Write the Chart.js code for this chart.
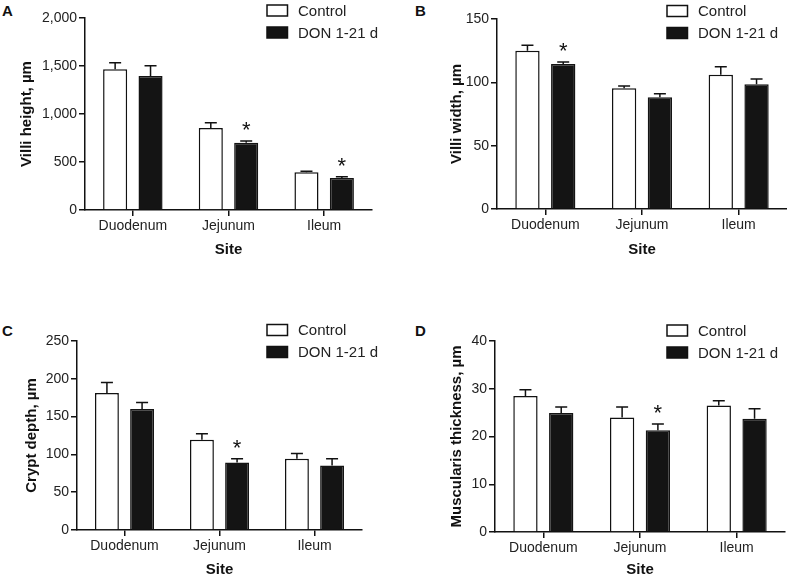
<!DOCTYPE html>
<html lang="en">
<head>
<meta charset="UTF-8">
<title>Intestinal morphology - DON 1-21 d</title>
<script src="https://cdn.jsdelivr.net/npm/chart.js"></script>
<style>
  body { margin: 0; background: #fff; width: 787px; height: 584px; position: relative; overflow: hidden; font-family: "Liberation Sans", Arial, sans-serif; }
  .painel { position: absolute; }
  .letra { position: absolute; font-weight: bold; font-size: 15px; line-height: 15px; color: #111; }
</style>
</head>
<body>
  <div class="letra" style="left:2px;top:3px">A</div>
  <div class="letra" style="left:415px;top:3px">B</div>
  <div class="letra" style="left:2px;top:323px">C</div>
  <div class="letra" style="left:415px;top:323px">D</div>

  <div class="painel" style="left:0;top:0;width:393px;height:290px"><canvas id="graficoA"></canvas></div>
  <div class="painel" style="left:400px;top:0;width:387px;height:290px"><canvas id="graficoB"></canvas></div>
  <div class="painel" style="left:0;top:322px;width:393px;height:262px"><canvas id="graficoC"></canvas></div>
  <div class="painel" style="left:400px;top:322px;width:387px;height:262px"><canvas id="graficoD"></canvas></div>

  <script>
    // dados (media e SEM)
    const sites = ['Duodenum', 'Jejunum', 'Ileum'];
    const series = ['Control', 'DON 1-21 d'];

    const villiHeightControl = [1466, 854, 393];
    const villiHeightControlSem = [68, 55, 10];
    const villiHeightDon = [1396, 701, 333];
    const villiHeightDonSem = [107, 18, 14];
    const villiHeightSig = [false, true, true];

    const villiWidthControl = [125, 95.4, 105.9];
    const villiWidthControlSem = [4.3, 1.8, 6.5];
    const villiWidthDon = [114.5, 88.3, 98.5];
    const villiWidthDonSem = [1.6, 2.6, 4.2];
    const villiWidthSig = [true, false, false];

    const cryptDepthControl = [181.3, 119.3, 94.2];
    const cryptDepthControlSem = [13.7, 7.9, 7.1];
    const cryptDepthDon = [160.2, 89.4, 85.4];
    const cryptDepthDonSem = [8.4, 4.8, 8.8];
    const cryptDepthSig = [false, true, false];

    const muscularisControl = [28.5, 24.0, 26.5];
    const muscularisControlSem = [1.3, 2.2, 1.0];
    const muscularisDon = [24.9, 21.3, 23.7];
    const muscularisDonSem = [1.3, 1.3, 2.1];
    const muscularisSig = [false, true, false];

    const FONTE = '"Liberation Sans", Arial, Helvetica, sans-serif';
    Chart.defaults.font.family = FONTE;
    Chart.defaults.color = '#222';

    // barras de erro (so para cima) + asteriscos
    const barrasErro = {
      id: 'barrasErro',
      afterDatasetsDraw(chart) {
        const ctx = chart.ctx, y = chart.scales.y;
        ctx.save();
        ctx.strokeStyle = '#111';
        ctx.lineWidth = 1.5;
        chart.data.datasets.forEach((ds, d) => {
          chart.getDatasetMeta(d).data.forEach((bar, i) => {
            const topo = y.getPixelForValue(ds.data[i] + ds.sem[i]);
            ctx.beginPath();
            ctx.moveTo(bar.x, bar.y);
            ctx.lineTo(bar.x, topo);
            ctx.moveTo(bar.x - 6, topo);
            ctx.lineTo(bar.x + 6, topo);
            ctx.stroke();
            if (ds.sig && ds.sig[i]) {
              ctx.fillStyle = '#111';
              ctx.font = '22px ' + FONTE;
              ctx.textAlign = 'center';
              ctx.textBaseline = 'alphabetic';
              ctx.fillText('*', bar.x, topo - 16 + 12);
            }
          });
        });
        ctx.restore();
      }
    };

    // legenda desenhada no canto superior direito
    const legenda = {
      id: 'legenda',
      afterDraw(chart) {
        const ctx = chart.ctx;
        const y0 = chart.options.legendaY;
        ctx.save();
        chart.data.datasets.forEach((ds, d) => {
          const cy = y0 + d * 22;
          ctx.fillStyle = ds.backgroundColor;
          ctx.fillRect(267, cy - 5.5, 20.5, 11);
          ctx.strokeStyle = '#111';
          ctx.lineWidth = 1.5;
          ctx.strokeRect(267, cy - 5.5, 20.5, 11);
          ctx.fillStyle = '#222';
          ctx.font = '15px ' + FONTE;
          ctx.textAlign = 'left';
          ctx.textBaseline = 'middle';
          ctx.fillText(ds.label, 298, cy + 1);
        });
        ctx.restore();
      }
    };

    function painel(id, o) {
      return new Chart(document.getElementById(id), {
        type: 'bar',
        data: {
          labels: sites,
          datasets: [
            { label: series[0], data: o.control, sem: o.controlSem, backgroundColor: '#fff', borderColor: '#111', borderWidth: 1.5 },
            { label: series[1], data: o.don, sem: o.donSem, sig: o.sig, backgroundColor: '#141414', borderColor: '#141414', borderWidth: 1.5 }
          ]
        },
        options: {
          responsive: true,
          maintainAspectRatio: false,
          animation: false,
          legendaY: o.legendaY,
          layout: { padding: { left: 0, top: o.top, right: o.right, bottom: 0 } },
          plugins: { legend: { display: false }, tooltip: { enabled: false } },
          datasets: { bar: { categoryPercentage: 0.74, barPercentage: 0.68 } },
          scales: {
            x: {
              grid: { display: true, offset: false, drawOnChartArea: false, tickLength: 6, color: '#111', lineWidth: 1.5 },
              border: { color: '#111', width: 1.5 },
              ticks: { color: '#222', font: { size: 14 }, padding: 2, maxRotation: 0 },
              title: { display: true, text: 'Site', color: '#111', font: { size: 15, weight: 'bold' }, padding: { top: 0, bottom: o.sitePad } },
              afterFit: s => { s.height = o.xAltura; }
            },
            y: {
              min: 0,
              max: o.max,
              ticks: { stepSize: o.step, color: '#222', font: { size: 14 }, padding: 2, callback: v => v.toLocaleString('en-US') },
              grid: { display: true, drawOnChartArea: false, tickLength: 6, color: '#111', lineWidth: 1.5 },
              border: { color: '#111', width: 1.5 },
              title: { display: true, text: o.yTitulo, color: '#111', font: { size: 15, weight: 'bold' }, padding: { top: o.tituloPad, bottom: 0 } },
              afterFit: s => { s.width = o.esquerda; }
            }
          }
        },
        plugins: [barrasErro, legenda]
      });
    }

    painel('graficoA', {
      control: villiHeightControl, controlSem: villiHeightControlSem,
      don: villiHeightDon, donSem: villiHeightDonSem, sig: villiHeightSig,
      max: 2000, step: 500, yTitulo: 'Villi height, \u00b5m',
      esquerda: 85, top: 18, right: 21, xAltura: 80, sitePad: 31, tituloPad: 18, legendaY: 10.5
    });
    painel('graficoB', {
      control: villiWidthControl, controlSem: villiWidthControlSem,
      don: villiWidthDon, donSem: villiWidthDonSem, sig: villiWidthSig,
      max: 150, step: 50, yTitulo: 'Villi width, \u00b5m',
      esquerda: 97, top: 19, right: 0, xAltura: 81, sitePad: 31, tituloPad: 48, legendaY: 11
    });
    painel('graficoC', {
      control: cryptDepthControl, controlSem: cryptDepthControlSem,
      don: cryptDepthDon, donSem: cryptDepthDonSem, sig: cryptDepthSig,
      max: 250, step: 50, yTitulo: 'Crypt depth, \u00b5m',
      esquerda: 77, top: 19, right: 31, xAltura: 54, sitePad: 5, tituloPad: 23, legendaY: 8
    });
    painel('graficoD', {
      control: muscularisControl, controlSem: muscularisControlSem,
      don: muscularisDon, donSem: muscularisDonSem, sig: muscularisSig,
      max: 40, step: 10, yTitulo: 'Muscularis thickness, \u00b5m',
      esquerda: 95, top: 19, right: 2, xAltura: 52, sitePad: 5, tituloPad: 48, legendaY: 8.5
    });
  </script>
</body>
</html>
